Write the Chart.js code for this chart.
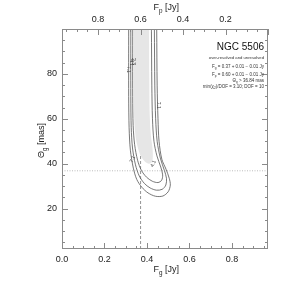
<!DOCTYPE html>
<html>
<head>
<meta charset="utf-8">
<script src="https://cdn.jsdelivr.net/npm/chart.js@4.4.1/dist/chart.umd.min.js"></script>
<style>
  html, body { margin: 0; padding: 0; background: #fff; }
  #wrap { width: 299px; height: 294px; }
</style>
</head>
<body>
<div id="wrap"><canvas id="c" width="299" height="294"></canvas></div>
<script>
// total flux, F_p = total - F_g
const totalFlux = 0.97;
const fgBest = 0.37;
const thetaLimit = 36.84;

const xTicks = [0.0, 0.2, 0.4, 0.6, 0.8];
const topTicks = [0.8, 0.6, 0.4, 0.2];
const yTicks = [20, 40, 60, 80];

// chi2 contours: [F_g, theta_g]
const contour71 = [[0.314, 100], [0.314, 70], [0.316, 56], [0.322, 46], [0.336, 38], [0.352, 33], [0.376, 29.5],
  [0.405, 27], [0.44, 25.5], [0.475, 25.6], [0.5, 27.5], [0.51, 30.5], [0.505, 33.5], [0.49, 37.5],
  [0.47, 42], [0.457, 50], [0.452, 60], [0.448, 75], [0.446, 100]];
const contour41 = [[0.324, 100], [0.324, 70], [0.326, 56], [0.332, 47], [0.346, 39.5], [0.364, 34.5], [0.388, 31.2],
  [0.415, 29.2], [0.445, 28.2], [0.472, 28.6], [0.489, 30.5], [0.492, 33.5], [0.482, 37], [0.463, 42.5],
  [0.448, 50], [0.441, 60], [0.437, 75], [0.435, 100]];
const contour23 = [[0.333, 100], [0.333, 70], [0.335, 57], [0.342, 48.5], [0.356, 41.5], [0.374, 37], [0.398, 34],
  [0.425, 32.2], [0.452, 31.6], [0.469, 32.6], [0.474, 35], [0.465, 38.5], [0.447, 43.5], [0.433, 50],
  [0.426, 60], [0.423, 75], [0.421, 100]];
const shadeOuter = [[0.338, 100], [0.338, 70], [0.341, 58], [0.35, 50], [0.368, 44], [0.39, 41], [0.41, 40],
  [0.425, 41], [0.427, 46], [0.418, 53], [0.413, 62], [0.411, 80], [0.41, 100]];
const shadeInner = [[0.34, 100], [0.34, 72], [0.345, 60], [0.356, 52], [0.372, 47], [0.385, 46],
  [0.382, 52], [0.374, 60], [0.372, 75], [0.372, 100]];

const contourLabels = [
  { text: '7.1', x: 0.311, y: 82, rot: Math.PI / 2 },
  { text: '4.1', x: 0.327, y: 85, rot: Math.PI / 2 },
  { text: '2.3', x: 0.338, y: 85.5, rot: Math.PI / 2 },
  { text: '7.1', x: 0.453, y: 66, rot: Math.PI / 2 },
  { text: '7.1', x: 0.332, y: 42, rot: -1.1 },
  { text: '4.1', x: 0.43, y: 40, rot: -1.1 }
];

const FONT = "'Liberation Sans', Arial, sans-serif";
const toXY = arr => arr.map(p => ({ x: p[0], y: p[1] }));

function line(data, opts) {
  return Object.assign({
    data: toXY(data), showLine: true, pointRadius: 0, borderColor: '#555',
    borderWidth: 0.8, fill: false, tension: 0.3
  }, opts);
}

const datasets = [
  line(shadeOuter, { borderWidth: 0, borderColor: 'rgba(0,0,0,0)', backgroundColor: '#e6e6e6', fill: 'shape' }),
  line(shadeInner, { borderWidth: 0, borderColor: 'rgba(0,0,0,0)', backgroundColor: '#d2d2d2', fill: 'shape' }),
  line(contour71, {}),
  line(contour41, {}),
  line(contour23, {}),
  line([[fgBest, 2], [fgBest, 100]], { borderColor: '#777', borderDash: [3, 2], tension: 0 }),
  line([[0, thetaLimit], [totalFlux, thetaLimit]], { borderColor: '#aaa', borderDash: [1, 1.5], tension: 0 })
];

function drawRich(ctx, parts, xRight, y, size) {
  const sub = size * 0.7;
  let w = 0;
  parts.forEach(p => { ctx.font = (p.s ? sub : size) + 'px ' + FONT; p.w = ctx.measureText(p.t).width; w += p.w; });
  let x = xRight - w;
  parts.forEach(p => {
    ctx.font = (p.s ? sub : size) + 'px ' + FONT;
    ctx.fillText(p.t, x, y + (p.s ? size * 0.3 : 0));
    x += p.w;
  });
}

const framePlugin = {
  id: 'frame',
  afterDraw(chart) {
    const ctx = chart.ctx, a = chart.chartArea;
    const sx = chart.scales.x, sy = chart.scales.y, st = chart.scales.x2;
    ctx.save();
    ctx.strokeStyle = '#8a8a8a';
    ctx.lineWidth = 1;
    ctx.strokeRect(a.left + 0.5, a.top + 0.5, a.right - a.left - 1, a.bottom - a.top - 1);
    ctx.beginPath();
    // bottom / top x ticks (inward)
    for (let v = 0; v <= totalFlux + 1e-6; v += 0.05) {
      const px = Math.round(sx.getPixelForValue(v)) + 0.5;
      const len = Math.abs(v / 0.2 - Math.round(v / 0.2)) < 1e-6 ? 6 : 3;
      ctx.moveTo(px, a.bottom); ctx.lineTo(px, a.bottom - len);
    }
    for (let v = 0; v <= totalFlux + 1e-6; v += 0.05) {
      const px = Math.round(st.getPixelForValue(v)) + 0.5;
      const len = Math.abs(v / 0.2 - Math.round(v / 0.2)) < 1e-6 ? 6 : 3;
      ctx.moveTo(px, a.top); ctx.lineTo(px, a.top + len);
    }
    for (let v = 5; v <= 100; v += 5) {
      const py = Math.round(sy.getPixelForValue(v)) + 0.5;
      const len = v % 20 === 0 ? 6 : 3;
      ctx.moveTo(a.left, py); ctx.lineTo(a.left + len, py);
      ctx.moveTo(a.right, py); ctx.lineTo(a.right - len, py);
    }
    ctx.stroke();

    // contour labels
    ctx.fillStyle = '#444';
    ctx.font = '5px ' + FONT;
    ctx.textAlign = 'center';
    ctx.textBaseline = 'middle';
    contourLabels.forEach(l => {
      ctx.save();
      ctx.translate(sx.getPixelForValue(l.x), sy.getPixelForValue(l.y));
      ctx.rotate(l.rot);
      ctx.fillText(l.text, 0, 0);
      ctx.restore();
    });

    // axis titles
    ctx.fillStyle = '#222';
    ctx.textBaseline = 'alphabetic';
    ctx.textAlign = 'left';
    const cx = (a.left + a.right) / 2;
    drawRich(ctx, [{ t: 'F' }, { t: 'g', s: 1 }, { t: ' [Jy]' }], cx + 14, 272, 9);
    drawRich(ctx, [{ t: 'F' }, { t: 'p', s: 1 }, { t: ' [Jy]' }], cx + 14, 10, 9);
    ctx.save();
    ctx.translate(44, (a.top + a.bottom) / 2 + 4);
    ctx.rotate(-Math.PI / 2);
    drawRich(ctx, [{ t: '\u0398' }, { t: 'g', s: 1 }, { t: ' [mas]' }], 20, 0, 9);
    ctx.restore();

    // annotation block
    const xr = a.right - 4;
    ctx.fillStyle = '#111';
    drawRich(ctx, [{ t: 'NGC 5506' }], xr, 50, 10);
    ctx.fillStyle = '#333';
    drawRich(ctx, [{ t: 'over-resolved and unresolved' }], xr, 58.5, 4.2);
    drawRich(ctx, [{ t: 'F' }, { t: 'g', s: 1 }, { t: ' = 0.37 + 0.01 \u2212 0.01 Jy' }], xr, 68, 4.5);
    drawRich(ctx, [{ t: 'F' }, { t: 'p', s: 1 }, { t: ' = 0.60 + 0.01 \u2212 0.01 Jy' }], xr, 75.5, 4.5);
    drawRich(ctx, [{ t: '\u0398' }, { t: 'g', s: 1 }, { t: ' > 36.84 mas' }], xr, 82, 4.5);
    drawRich(ctx, [{ t: 'min(\u03c7' }, { t: '2', s: 1 }, { t: ')/DOF = 3.10; DOF = 10' }], xr, 88, 4.5);
    ctx.restore();
  }
};

const tickFont = { family: FONT, size: 9 };

new Chart(document.getElementById('c'), {
  type: 'scatter',
  data: { datasets },
  options: {
    responsive: false,
    animation: false,
    events: [],
    layout: { padding: { left: 0, right: 0, top: 0, bottom: 0 } },
    plugins: { legend: { display: false }, tooltip: { enabled: false } },
    scales: {
      x: {
        type: 'linear', position: 'bottom', min: 0, max: totalFlux,
        afterBuildTicks: s => { s.ticks = xTicks.map(v => ({ value: v })); },
        afterFit: s => { s.height = 45; },
        grid: { display: false, drawTicks: false },
        border: { display: false },
        ticks: { color: '#222', font: tickFont, padding: 5, maxRotation: 0, callback: v => v.toFixed(1) }
      },
      x2: {
        type: 'linear', position: 'top', min: 0, max: totalFlux, reverse: true,
        afterBuildTicks: s => { s.ticks = topTicks.map(v => ({ value: v })); },
        afterFit: s => { s.height = 29; },
        grid: { display: false, drawTicks: false },
        border: { display: false },
        ticks: { color: '#222', font: tickFont, padding: 4, maxRotation: 0, callback: v => v.toFixed(1) }
      },
      y: {
        type: 'linear', position: 'left', min: 2, max: 100,
        afterBuildTicks: s => { s.ticks = yTicks.map(v => ({ value: v })); },
        afterFit: s => { s.width = 62; },
        grid: { display: false, drawTicks: false },
        border: { display: false },
        ticks: { color: '#222', font: tickFont, padding: 5 }
      },
      y2: {
        type: 'linear', position: 'right', min: 2, max: 100,
        afterFit: s => { s.width = 31; },
        grid: { display: false, drawTicks: false },
        border: { display: false },
        ticks: { display: false }
      }
    }
  },
  plugins: [framePlugin]
});
</script>
</body>
</html>
